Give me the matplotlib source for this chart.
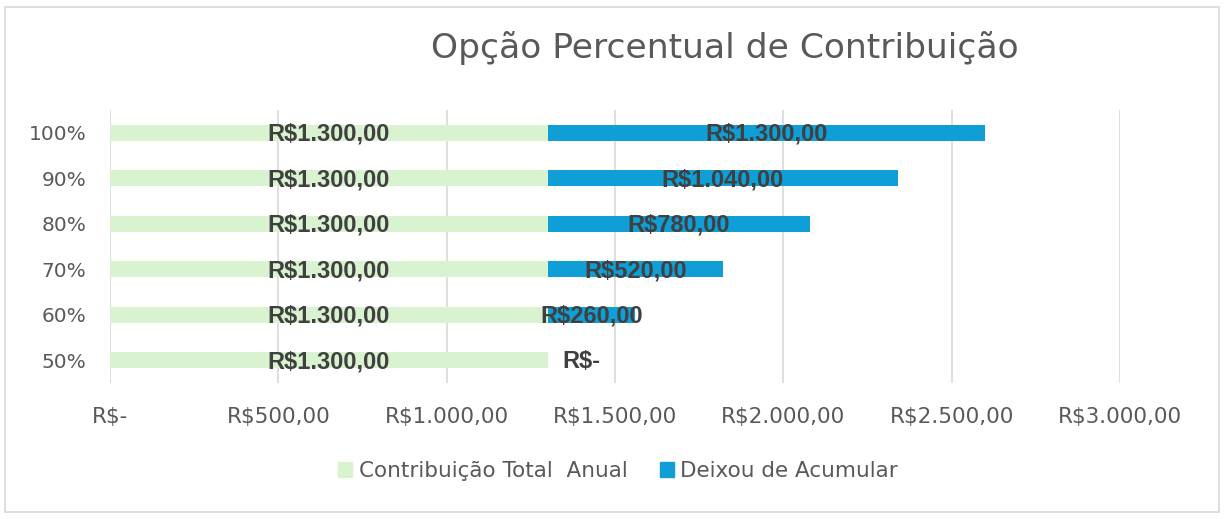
import matplotlib.pyplot as plt
from matplotlib.patches import Rectangle, Patch

plt.rcParams["font.family"] = ["DejaVu Sans"]

categories = ["50%", "60%", "70%", "80%", "90%", "100%"]
contribuicao = [1300, 1300, 1300, 1300, 1300, 1300]
deixou = [0, 260, 520, 780, 1040, 1300]
xticks = [0, 500, 1000, 1500, 2000, 2500, 3000]

GREEN = "#D9F2D0"
BLUE = "#0F9ED5"
GRAY = "#595959"
LABEL = "#404040"


def brl(v):
    if v == 0:
        return "R$-"
    s = f"{v:,.2f}".replace(",", "X").replace(".", ",").replace("X", ".")
    return "R$" + s


fig = plt.figure(figsize=(12.25, 5.19), dpi=100)
fig.patches.append(Rectangle((5 / 1225, 7 / 519), 1214 / 1225, 505 / 519,
                             transform=fig.transFigure, fill=False,
                             edgecolor="#D9D9D9", linewidth=1.2))
ax = fig.add_axes([110 / 1225, 1 - 383 / 519, 1010 / 1225, 273 / 519])

y = range(len(categories))
ax.barh(y, contribuicao, height=0.35, color=GREEN, zorder=2)
ax.barh(y, deixou, left=contribuicao, height=0.35, color=BLUE, zorder=2)

lbl = dict(fontsize=17, fontweight="bold", color=LABEL, zorder=3,
           family="Liberation Sans", va="center")
for i in y:
    ax.text(contribuicao[i] / 2, i - 0.03, brl(contribuicao[i]), ha="center", **lbl)
    if deixou[i] == 0:
        ax.text(contribuicao[i] + 45, i - 0.03, brl(0), ha="left", **lbl)
    else:
        ax.text(contribuicao[i] + deixou[i] / 2, i - 0.03, brl(deixou[i]), ha="center", **lbl)

ax.set_xlim(0, 3000)
ax.set_ylim(-0.5, len(categories) - 0.5)
ax.set_xticks(xticks)
ax.set_xticklabels([brl(v) for v in xticks], fontsize=15.5, color=GRAY)
ax.set_yticks(list(y))
ax.set_yticklabels(categories, fontsize=14.5, color=GRAY)
ax.tick_params(length=0)
ax.tick_params(axis="x", pad=17)
ax.tick_params(axis="y", pad=17)
ax.grid(axis="x", color="#D9D9D9", linewidth=1.2, zorder=0)
for s in ax.spines.values():
    s.set_visible(False)

fig.text(725 / 1225, 1 - 48 / 519, "Opção Percentual de Contribuição",
         ha="center", va="center", fontsize=24.8, color=GRAY)

handles = [Patch(color=GREEN, label="Contribuição Total  Anual"),
           Patch(color=BLUE, label="Deixou de Acumular")]
fig.legend(handles=handles, loc="center", bbox_to_anchor=(618 / 1225, 1 - 471 / 519),
           ncol=2, frameon=False, fontsize=15.5, labelcolor=GRAY,
           handlelength=0.65, handleheight=0.65, handletextpad=0.3, columnspacing=1.5)

fig.savefig("out.png", dpi=100)
